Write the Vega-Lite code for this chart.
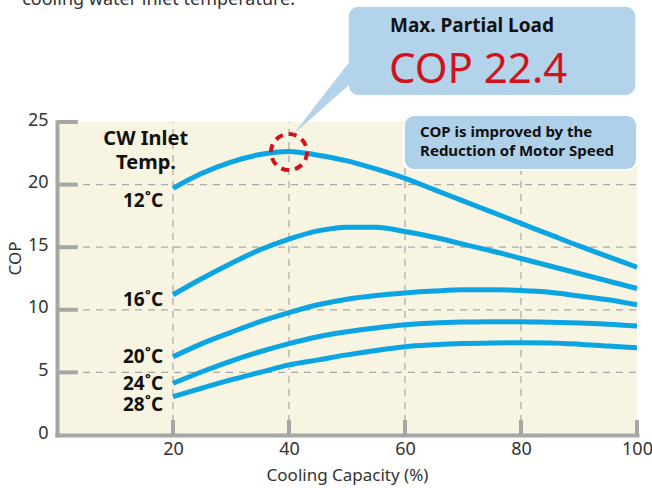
{
  "$schema": "https://vega.github.io/schema/vega-lite/v6.json",
  "width": 580,
  "height": 313,
  "autosize": {"type": "none"},
  "padding": {"left": 57, "top": 122, "right": 15, "bottom": 53},
  "background": "#ffffff",
  "config": {
    "view": {"stroke": null, "fill": "#f7f4e1"},
    "font": "Noto Sans"
  },
  "datasets": {
    "curves": [
      {"x": 20, "y": 19.7, "t": "12"}, {"x": 25, "y": 20.9, "t": "12"}, {"x": 30, "y": 21.8, "t": "12"}, {"x": 35, "y": 22.4, "t": "12"}, {"x": 40, "y": 22.65, "t": "12"}, {"x": 45, "y": 22.35, "t": "12"}, {"x": 50, "y": 21.9, "t": "12"}, {"x": 55, "y": 21.25, "t": "12"}, {"x": 60, "y": 20.5, "t": "12"}, {"x": 65, "y": 19.6, "t": "12"}, {"x": 70, "y": 18.7, "t": "12"}, {"x": 75, "y": 17.8, "t": "12"}, {"x": 80, "y": 16.9, "t": "12"}, {"x": 85, "y": 16.0, "t": "12"}, {"x": 90, "y": 15.1, "t": "12"}, {"x": 95, "y": 14.25, "t": "12"}, {"x": 100, "y": 13.4, "t": "12"},
      {"x": 20, "y": 11.2, "t": "16"}, {"x": 25, "y": 12.5, "t": "16"}, {"x": 30, "y": 13.7, "t": "16"}, {"x": 35, "y": 14.8, "t": "16"}, {"x": 40, "y": 15.65, "t": "16"}, {"x": 45, "y": 16.3, "t": "16"}, {"x": 50, "y": 16.6, "t": "16"}, {"x": 55, "y": 16.6, "t": "16"}, {"x": 60, "y": 16.25, "t": "16"}, {"x": 65, "y": 15.8, "t": "16"}, {"x": 70, "y": 15.25, "t": "16"}, {"x": 75, "y": 14.7, "t": "16"}, {"x": 80, "y": 14.1, "t": "16"}, {"x": 85, "y": 13.5, "t": "16"}, {"x": 90, "y": 12.9, "t": "16"}, {"x": 95, "y": 12.3, "t": "16"}, {"x": 100, "y": 11.7, "t": "16"},
      {"x": 20, "y": 6.25, "t": "20"}, {"x": 25, "y": 7.3, "t": "20"}, {"x": 30, "y": 8.2, "t": "20"}, {"x": 35, "y": 9.05, "t": "20"}, {"x": 40, "y": 9.77, "t": "20"}, {"x": 45, "y": 10.4, "t": "20"}, {"x": 50, "y": 10.85, "t": "20"}, {"x": 55, "y": 11.15, "t": "20"}, {"x": 60, "y": 11.35, "t": "20"}, {"x": 65, "y": 11.5, "t": "20"}, {"x": 70, "y": 11.6, "t": "20"}, {"x": 75, "y": 11.6, "t": "20"}, {"x": 80, "y": 11.55, "t": "20"}, {"x": 85, "y": 11.4, "t": "20"}, {"x": 90, "y": 11.1, "t": "20"}, {"x": 95, "y": 10.8, "t": "20"}, {"x": 100, "y": 10.4, "t": "20"},
      {"x": 20, "y": 4.13, "t": "24"}, {"x": 25, "y": 5.05, "t": "24"}, {"x": 30, "y": 5.9, "t": "24"}, {"x": 35, "y": 6.65, "t": "24"}, {"x": 40, "y": 7.3, "t": "24"}, {"x": 45, "y": 7.85, "t": "24"}, {"x": 50, "y": 8.25, "t": "24"}, {"x": 55, "y": 8.55, "t": "24"}, {"x": 60, "y": 8.8, "t": "24"}, {"x": 65, "y": 8.95, "t": "24"}, {"x": 70, "y": 9.02, "t": "24"}, {"x": 75, "y": 9.05, "t": "24"}, {"x": 80, "y": 9.05, "t": "24"}, {"x": 85, "y": 9.0, "t": "24"}, {"x": 90, "y": 8.95, "t": "24"}, {"x": 95, "y": 8.85, "t": "24"}, {"x": 100, "y": 8.7, "t": "24"},
      {"x": 20, "y": 3.06, "t": "28"}, {"x": 25, "y": 3.75, "t": "28"}, {"x": 30, "y": 4.4, "t": "28"}, {"x": 35, "y": 5.0, "t": "28"}, {"x": 40, "y": 5.6, "t": "28"}, {"x": 45, "y": 6.0, "t": "28"}, {"x": 50, "y": 6.4, "t": "28"}, {"x": 55, "y": 6.75, "t": "28"}, {"x": 60, "y": 7.05, "t": "28"}, {"x": 65, "y": 7.2, "t": "28"}, {"x": 70, "y": 7.3, "t": "28"}, {"x": 75, "y": 7.35, "t": "28"}, {"x": 80, "y": 7.37, "t": "28"}, {"x": 85, "y": 7.35, "t": "28"}, {"x": 90, "y": 7.25, "t": "28"}, {"x": 95, "y": 7.1, "t": "28"}, {"x": 100, "y": 6.97, "t": "28"}
    ],
    "gridx": [{"x": 20, "y": 0, "y2": 25}, {"x": 40, "y": 0, "y2": 25}, {"x": 60, "y": 0, "y2": 25}, {"x": 80, "y": 0, "y2": 25}],
    "gridy": [{"y": 5, "x": 0, "x2": 100}, {"y": 10, "x": 0, "x2": 100}, {"y": 15, "x": 0, "x2": 100}, {"y": 20, "x": 0, "x2": 100}],
    "yticks": [{"y": 5, "x": 0, "x2": 3.6}, {"y": 10, "x": 0, "x2": 3.6}, {"y": 15, "x": 0, "x2": 3.6}, {"y": 20, "x": 0, "x2": 3.6}, {"y": 25, "x": 0, "x2": 3.6}],
    "xticks": [{"x": 20, "y": 0, "y2": 1.2}, {"x": 40, "y": 0, "y2": 1.2}, {"x": 60, "y": 0, "y2": 1.2}, {"x": 80, "y": 0, "y2": 1.2}, {"x": 100, "y": 0, "y2": 1.2}],
    "templabels": [
      {"x": 18.3, "y": 18.7, "label": "12˚C"},
      {"x": 18.3, "y": 10.8, "label": "16˚C"},
      {"x": 18.3, "y": 6.2, "label": "20˚C"},
      {"x": 18.3, "y": 4.07, "label": "24˚C"},
      {"x": 18.3, "y": 2.36, "label": "28˚C"}
    ],
    "cwlabels": [
      {"x": 15.3, "y": 23.65, "label": "CW Inlet"},
      {"x": 15.35, "y": 21.75, "label": "Temp."}
    ],
    "peak": [{"x": 40, "y": 22.6}],
    "wedge": [{"x": 40.7, "y": 24.0, "y2": 24.0}, {"x": 50.9, "y": 28.2, "y2": 30.1}],
    "box1": [{"x": 50.3, "x2": 99.7, "y": 27.16, "y2": 34.2}],
    "box2": [{"x": 59.8, "x2": 100, "y": 21.17, "y2": 25.56}],
    "box1title": [{"x": 71.55, "y": 32.19, "label": "Max. Partial Load"}],
    "box1value": [{"x": 72.6, "y": 28.12, "label": "COP 22.4"}],
    "box2text": [
      {"x": 62.6, "y": 23.78, "label": "COP is improved by the"},
      {"x": 62.6, "y": 22.31, "label": "Reduction of Motor Speed"}
    ],
    "toptext": [{"x": -6.0, "y": 34.35, "label": "cooling water inlet temperature."}]
  },
  "encoding": {
    "x": {
      "field": "x", "type": "quantitative",
      "scale": {"domain": [0, 100], "nice": false},
      "axis": {
        "values": [20, 40, 60, 80, 100], "title": "Cooling Capacity (%)", "grid": false, "ticks": false,
        "domainColor": "#a6a6a6", "domainWidth": 4, "domainCap": "square",
        "labelFontSize": 18, "labelColor": "#333333", "labelPadding": 5, "labelFont": "Noto Sans", "labelFlush": false, "labelOverlap": false,
        "titleFontSize": 17, "titleFontWeight": "normal", "titleColor": "#333333", "titlePadding": 9, "titleFont": "Noto Sans"
      }
    },
    "y": {
      "field": "y", "type": "quantitative",
      "scale": {"domain": [0, 25], "nice": false},
      "axis": {
        "values": [0, 5, 10, 15, 20, 25], "title": "COP", "grid": false, "ticks": false,
        "domainColor": "#a6a6a6", "domainWidth": 4, "domainCap": "square",
        "labelFontSize": 18, "labelColor": "#333333", "labelPadding": 9, "labelFont": "Noto Sans", "labelOffset": -2, "labelFlush": false, "labelOverlap": false,
        "titleFontSize": 17, "titleFontWeight": "normal", "titleColor": "#333333", "titlePadding": 3, "titleFont": "Noto Sans",
        "titleY": 136
      }
    }
  },
  "layer": [
    {
      "data": {"name": "gridx"},
      "mark": {"type": "rule", "stroke": "#a8a8a8", "strokeWidth": 1.2, "strokeDash": [7, 6]},
      "encoding": {"y2": {"field": "y2"}}
    },
    {
      "data": {"name": "gridy"},
      "mark": {"type": "rule", "stroke": "#a8a8a8", "strokeWidth": 1.2, "strokeDash": [7, 6]},
      "encoding": {"x2": {"field": "x2"}}
    },
    {
      "data": {"name": "yticks"},
      "mark": {"type": "rule", "stroke": "#a6a6a6", "strokeWidth": 4},
      "encoding": {"x2": {"field": "x2"}}
    },
    {
      "data": {"name": "xticks"},
      "mark": {"type": "rule", "stroke": "#a6a6a6", "strokeWidth": 4},
      "encoding": {"y2": {"field": "y2"}}
    },
    {
      "data": {"name": "curves"},
      "mark": {"type": "line", "stroke": "#0aa5e2", "strokeWidth": 5, "interpolate": "monotone"},
      "encoding": {"detail": {"field": "t", "type": "nominal"}}
    },
    {
      "data": {"name": "templabels"},
      "mark": {"type": "text", "align": "right", "baseline": "middle", "fontSize": 19, "fontWeight": "bold", "fill": "#111111"},
      "encoding": {"text": {"field": "label"}}
    },
    {
      "data": {"name": "cwlabels"},
      "mark": {"type": "text", "align": "center", "baseline": "middle", "fontSize": 20, "fontWeight": "bold", "fill": "#111111"},
      "encoding": {"text": {"field": "label"}}
    },
    {
      "data": {"name": "peak"},
      "mark": {"type": "point", "shape": "circle", "size": 1296, "filled": false, "stroke": "#d0121b", "strokeWidth": 4, "strokeDash": [8, 6], "opacity": 1},
      "encoding": {}
    },
    {
      "data": {"name": "wedge"},
      "mark": {"type": "area", "fill": "#b3d3ea", "opacity": 1},
      "encoding": {"y2": {"field": "y2"}}
    },
    {
      "data": {"name": "box1"},
      "mark": {"type": "rect", "fill": "#b3d3ea", "cornerRadius": 10},
      "encoding": {"x2": {"field": "x2"}, "y2": {"field": "y2"}}
    },
    {
      "data": {"name": "box2"},
      "mark": {"type": "rect", "fill": "#afd0e9", "cornerRadius": 10, "stroke": "#ffffff", "strokeWidth": 2},
      "encoding": {"x2": {"field": "x2"}, "y2": {"field": "y2"}}
    },
    {
      "data": {"name": "box1title"},
      "mark": {"type": "text", "align": "center", "baseline": "alphabetic", "fontSize": 19, "fontWeight": "bold", "fill": "#111111"},
      "encoding": {"text": {"field": "label"}}
    },
    {
      "data": {"name": "box1value"},
      "mark": {"type": "text", "align": "center", "baseline": "alphabetic", "fontSize": 42, "fontWeight": "normal", "fill": "#d0121b"},
      "encoding": {"text": {"field": "label"}}
    },
    {
      "data": {"name": "box2text"},
      "mark": {"type": "text", "align": "left", "baseline": "alphabetic", "fontSize": 15, "fontWeight": "bold", "fill": "#111111"},
      "encoding": {"text": {"field": "label"}}
    },
    {
      "data": {"name": "toptext"},
      "mark": {"type": "text", "align": "left", "baseline": "alphabetic", "fontSize": 18, "fill": "#333333"},
      "encoding": {"text": {"field": "label"}}
    }
  ]
}
